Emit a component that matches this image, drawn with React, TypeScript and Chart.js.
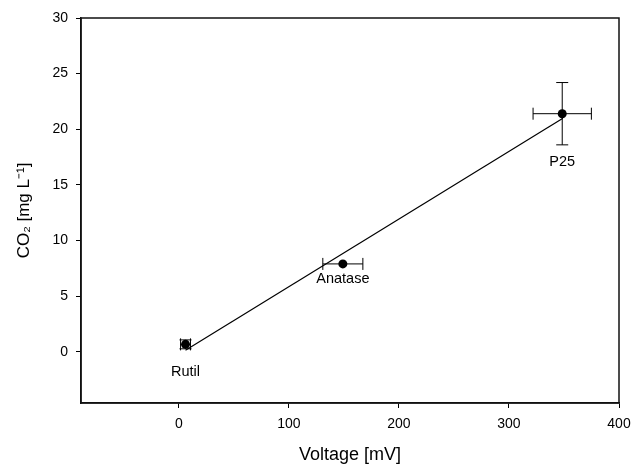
import React, { useEffect, useRef } from 'react';
import { Chart, registerables } from 'chart.js';

Chart.register(...registerables);

// ---- data ----
const sampleNames = ['Rutil', 'Anatase', 'P25'];
const voltage = [6, 149, 348.4];
const co2 = [0.67, 7.9, 21.4];
const voltageErr = [4.5, 18.2, 26.5];
const co2Err = [0.4, 0, 2.8];
const labelY = [-1.8, 6.5, 17.1];
const fitX = [6, 349];
const fitY = [0.15, 21.0];
const xTicks = [0, 100, 200, 300, 400];
const yTicks = [0, 5, 10, 15, 20, 25, 30];
const xRange = [-89, 400];
const yRange = [-4.6, 30];

const FONT = "'Liberation Sans', Arial, sans-serif";

const errorBarPlugin = {
  id: 'errorBars',
  beforeDatasetsDraw(chart: any) {
    const { ctx, scales } = chart;
    const xs = scales.x;
    const ys = scales.y;
    const cap = 6;
    ctx.save();
    ctx.strokeStyle = '#000';
    ctx.lineWidth = 1;
    voltage.forEach((v, i) => {
      const px = xs.getPixelForValue(v);
      const py = ys.getPixelForValue(co2[i]);
      if (voltageErr[i] > 0) {
        const x1 = xs.getPixelForValue(v - voltageErr[i]);
        const x2 = xs.getPixelForValue(v + voltageErr[i]);
        ctx.beginPath();
        ctx.moveTo(x1, py);
        ctx.lineTo(x2, py);
        ctx.moveTo(x1, py - cap);
        ctx.lineTo(x1, py + cap);
        ctx.moveTo(x2, py - cap);
        ctx.lineTo(x2, py + cap);
        ctx.stroke();
      }
      if (co2Err[i] > 0) {
        const y1 = ys.getPixelForValue(co2[i] - co2Err[i]);
        const y2 = ys.getPixelForValue(co2[i] + co2Err[i]);
        ctx.beginPath();
        ctx.moveTo(px, y1);
        ctx.lineTo(px, y2);
        ctx.moveTo(px - cap, y1);
        ctx.lineTo(px + cap, y1);
        ctx.moveTo(px - cap, y2);
        ctx.lineTo(px + cap, y2);
        ctx.stroke();
      }
    });
    ctx.restore();
  },
};

const framePlugin = {
  id: 'frameAndLabels',
  afterDraw(chart: any) {
    const { ctx, chartArea, scales } = chart;
    ctx.save();
    ctx.strokeStyle = '#111';
    ctx.lineWidth = 1.5;
    ctx.strokeRect(chartArea.left, chartArea.top, chartArea.right - chartArea.left, chartArea.bottom - chartArea.top);
    ctx.fillStyle = '#000';
    ctx.font = `14.5px ${FONT}`;
    ctx.textAlign = 'center';
    ctx.textBaseline = 'middle';
    sampleNames.forEach((n, i) => {
      ctx.fillText(n, scales.x.getPixelForValue(voltage[i]), scales.y.getPixelForValue(labelY[i]));
    });
    ctx.restore();
  },
};

export default function App() {
  const ref = useRef<HTMLCanvasElement>(null);
  useEffect(() => {
    if (!ref.current) return;
    const chart = new Chart(ref.current, {
      type: 'scatter',
      data: {
        datasets: [
          {
            data: fitX.map((x, i) => ({ x, y: fitY[i] })),
            showLine: true,
            borderColor: '#000',
            borderWidth: 1.2,
            pointRadius: 0,
            fill: false,
          },
          {
            data: voltage.map((x, i) => ({ x, y: co2[i] })),
            pointRadius: 4.5,
            backgroundColor: '#000',
            borderColor: '#000',
            borderWidth: 0,
          },
        ],
      } as any,
      options: {
        animation: false,
        responsive: true,
        maintainAspectRatio: false,
        layout: { padding: { top: 18, right: 14, left: 0, bottom: 0 } },
        plugins: { legend: { display: false }, tooltip: { enabled: false } },
        scales: {
          x: {
            type: 'linear',
            min: xRange[0],
            max: xRange[1],
            afterBuildTicks: (s: any) => {
              s.ticks = xTicks.map((v) => ({ value: v }));
            },
            afterFit: (s: any) => {
              s.height = 61;
              s.paddingLeft = 0;
              s.paddingRight = 0;
            },
            ticks: { color: '#000', font: { family: FONT, size: 14 }, padding: 8, maxRotation: 0, autoSkip: false },
            grid: { drawOnChartArea: false, drawTicks: true, tickLength: 5, color: '#000', tickColor: '#000' },
            border: { color: '#111', width: 1.5 },
            title: {
              display: true,
              text: 'Voltage [mV]',
              color: '#000',
              font: { family: FONT, size: 18, lineHeight: 1.0 },
              padding: 0,
            },
          },
          y: {
            type: 'linear',
            min: yRange[0],
            max: yRange[1],
            afterBuildTicks: (s: any) => {
              s.ticks = yTicks.map((v) => ({ value: v }));
            },
            afterFit: (s: any) => {
              s.width = 81;
              s.paddingTop = 0;
              s.paddingBottom = 0;
            },
            ticks: { color: '#000', font: { family: FONT, size: 14 }, padding: 8, autoSkip: false },
            grid: { drawOnChartArea: false, drawTicks: true, tickLength: 5, color: '#000', tickColor: '#000' },
            border: { color: '#111', width: 1.5 },
            title: {
              display: true,
              text: 'CO₂ [mg L⁻¹]',
              color: '#000',
              font: { family: FONT, size: 17 },
              padding: { top: 14, bottom: 0 },
            },
          },
        },
      } as any,
      plugins: [errorBarPlugin, framePlugin],
    });
    return () => chart.destroy();
  }, []);
  return (
    <div style={{ position: 'fixed', left: 0, top: 0, width: 633, height: 464, background: '#fff' }}>
      <canvas ref={ref} />
    </div>
  );
}
